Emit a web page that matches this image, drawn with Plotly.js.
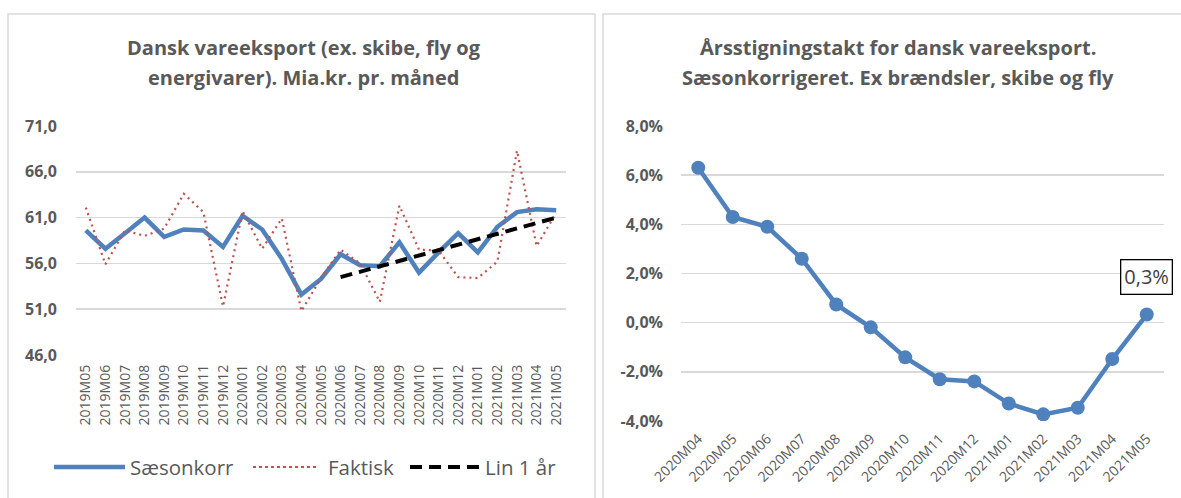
<!DOCTYPE html>
<html>
<head>
<meta charset="utf-8">
<script src="https://cdn.plot.ly/plotly-3.0.1.min.js"></script>
<style>
  html, body { margin: 0; padding: 0; background: #ffffff; }
  #chart { width: 1181px; height: 498px; }
</style>
</head>
<body>
<div id="chart"></div>
<script>
// ---------- Data ----------
const monthsLeft = ['2019M05','2019M06','2019M07','2019M08','2019M09','2019M10','2019M11','2019M12',
  '2020M01','2020M02','2020M03','2020M04','2020M05','2020M06','2020M07','2020M08','2020M09','2020M10',
  '2020M11','2020M12','2021M01','2021M02','2021M03','2021M04','2021M05'];
const saesonkorr = [59.6, 57.6, 59.3, 61.0, 58.9, 59.7, 59.6, 57.8, 61.2, 59.7, 56.5, 52.6, 54.3,
  57.0, 55.8, 55.7, 58.3, 55.0, 57.2, 59.3, 57.2, 60.0, 61.6, 61.9, 61.8];
const faktisk = [62.1, 55.9, 59.6, 59.0, 59.8, 63.6, 61.6, 51.3, 61.7, 57.6, 60.9, 50.8, 54.4,
  57.5, 56.0, 51.8, 62.3, 57.5, 57.4, 54.5, 54.4, 56.2, 68.3, 57.9, 61.5];
const lin1aarMonths = ['2020M06', '2021M05'];
const lin1aar = [54.5, 61.0];
const seriesNames = ['Sæsonkorr', 'Faktisk', 'Lin 1 år'];
const leftTicks = [46, 51, 56, 61, 66, 71];

const monthsRight = ['2020M04','2020M05','2020M06','2020M07','2020M08','2020M09','2020M10',
  '2020M11','2020M12','2021M01','2021M02','2021M03','2021M04','2021M05'];
const growth = [6.3, 4.3, 3.9, 2.6, 0.74, -0.19, -1.41, -2.3, -2.39, -3.29, -3.73, -3.46, -1.48, 0.33];
const rightTicks = [-4, -2, 0, 2, 4, 6, 8];

const titleLeft = ['Dansk vareeksport (ex. skibe, fly og', 'energivarer). Mia.kr. pr. måned'];
const titleRight = ['Årsstigningstakt for dansk vareeksport.', 'Sæsonkorrigeret. Ex brændsler, skibe og fly'];

// ---------- Helpers ----------
const W = 1181, H = 498;
const px = v => v / W;
const py = v => 1 - v / H;
const TXT = '#595959';
const FONT = '"Open Sans", "Noto Sans", sans-serif';
const BLUE = '#4f81bd';
const RED = '#c0504d';
const fmt1 = v => v.toFixed(1).replace('.', ',');

const traces = [
  { x: monthsLeft, y: saesonkorr, name: seriesNames[0], type: 'scatter', mode: 'lines',
    line: { color: BLUE, width: 4.5 }, xaxis: 'x', yaxis: 'y', showlegend: false },
  { x: monthsLeft, y: faktisk, name: seriesNames[1], type: 'scatter', mode: 'lines',
    line: { color: RED, width: 2.2, dash: '2px,4px' }, xaxis: 'x', yaxis: 'y', showlegend: false },
  { x: lin1aarMonths, y: lin1aar, name: seriesNames[2], type: 'scatter', mode: 'lines',
    line: { color: '#000000', width: 4, dash: '12px,7px' }, xaxis: 'x', yaxis: 'y', showlegend: false },
  { x: monthsRight, y: growth, name: 'Årsstigningstakt', type: 'scatter', mode: 'lines+markers',
    line: { color: BLUE, width: 4.5 }, marker: { color: BLUE, size: 14 },
    xaxis: 'x2', yaxis: 'y2', showlegend: false }
];

const annotations = [];
// Titles
[[titleLeft, 304], [titleRight, 898]].forEach(([lines, cx]) => {
  lines.forEach((t, i) => {
    annotations.push({ xref: 'paper', yref: 'paper', x: px(cx), y: py(48 + i * 30),
      text: '<b>' + t + '</b>', showarrow: false, xanchor: 'center', yanchor: 'middle',
      font: { family: FONT, size: 20, color: TXT } });
  });
});
// Data label on last point of right chart
const lastIdx = growth.length - 1;
annotations.push({ xref: 'x2', yref: 'y2', x: monthsRight[lastIdx], y: growth[lastIdx],
  text: fmt1(growth[lastIdx]) + '%', showarrow: false,
  xanchor: 'center', yanchor: 'bottom', yshift: 20,
  bordercolor: '#000000', borderwidth: 1.3, borderpad: 3, bgcolor: '#ffffff',
  font: { family: FONT, size: 20, color: '#404040' } });

// Custom legend (left chart)
const legendItems = [
  { x0: 54, x1: 125, tx: 128, color: BLUE, width: 4.5, dash: 'solid', name: seriesNames[0] },
  { x0: 253, x1: 318, tx: 326, color: RED, width: 2, dash: 'dot', name: seriesNames[1] },
  { x0: 410, x1: 482, tx: 483, color: '#000000', width: 4, dash: '12px,7px', name: seriesNames[2] }
];
const shapes = [
  // panel borders
  { type: 'rect', xref: 'paper', yref: 'paper', x0: px(8), x1: px(595), y0: py(520), y1: py(14),
    line: { color: '#d9d9d9', width: 1.5 }, fillcolor: 'rgba(0,0,0,0)', layer: 'below' },
  { type: 'rect', xref: 'paper', yref: 'paper', x0: px(603), x1: px(1200), y0: py(520), y1: py(14),
    line: { color: '#d9d9d9', width: 1.5 }, fillcolor: 'rgba(0,0,0,0)', layer: 'below' }
];
legendItems.forEach(it => {
  shapes.push({ type: 'line', xref: 'paper', yref: 'paper', x0: px(it.x0), x1: px(it.x1),
    y0: py(467), y1: py(467), line: { color: it.color, width: it.width, dash: it.dash } });
  annotations.push({ xref: 'paper', yref: 'paper', x: px(it.tx), y: py(467), text: it.name,
    showarrow: false, xanchor: 'left', yanchor: 'middle',
    font: { family: FONT, size: 20.5, color: TXT } });
});

const layout = {
  width: W, height: H,
  margin: { l: 0, r: 0, t: 0, b: 0, pad: 0 },
  paper_bgcolor: '#ffffff', plot_bgcolor: '#ffffff',
  separators: ',.',
  showlegend: false,
  font: { family: FONT, color: TXT },
  xaxis: {
    domain: [px(76), px(566)], anchor: 'y', type: 'category', range: [-0.5, monthsLeft.length - 0.5],
    tickangle: -90, tickfont: { family: FONT, size: 14, color: TXT },
    showgrid: false, zeroline: false, showline: false, ticks: '', ticklabelstandoff: 6,
    fixedrange: true
  },
  yaxis: {
    domain: [py(355), py(126)], anchor: 'x', range: [46, 71],
    tickmode: 'array', tickvals: leftTicks, ticktext: leftTicks.map(v => '<b>' + fmt1(v) + '</b>'),
    tickfont: { family: FONT, size: 16, color: TXT },
    showgrid: true, gridcolor: '#d9d9d9', gridwidth: 1.5, zeroline: false, showline: false,
    ticks: '', ticklabelstandoff: 18, fixedrange: true
  },
  xaxis2: {
    domain: [px(681), px(1164)], anchor: 'y2', type: 'category', range: [-0.5, monthsRight.length - 0.5],
    tickangle: -45, tickfont: { family: FONT, size: 14, color: TXT },
    showgrid: false, zeroline: false, showline: false, ticks: '', ticklabelstandoff: 6,
    fixedrange: true
  },
  yaxis2: {
    domain: [py(421), py(126)], anchor: 'x2', range: [-4, 8],
    tickmode: 'array', tickvals: rightTicks, ticktext: rightTicks.map(v => '<b>' + fmt1(v) + '%</b>'),
    tickfont: { family: FONT, size: 16, color: TXT },
    showgrid: true, gridcolor: '#d9d9d9', gridwidth: 1.5, zeroline: false, showline: false,
    ticks: '', ticklabelstandoff: 17, fixedrange: true
  },
  shapes: shapes,
  annotations: annotations
};

Plotly.newPlot('chart', traces, layout, { displayModeBar: false, staticPlot: true });
</script>
</body>
</html>
